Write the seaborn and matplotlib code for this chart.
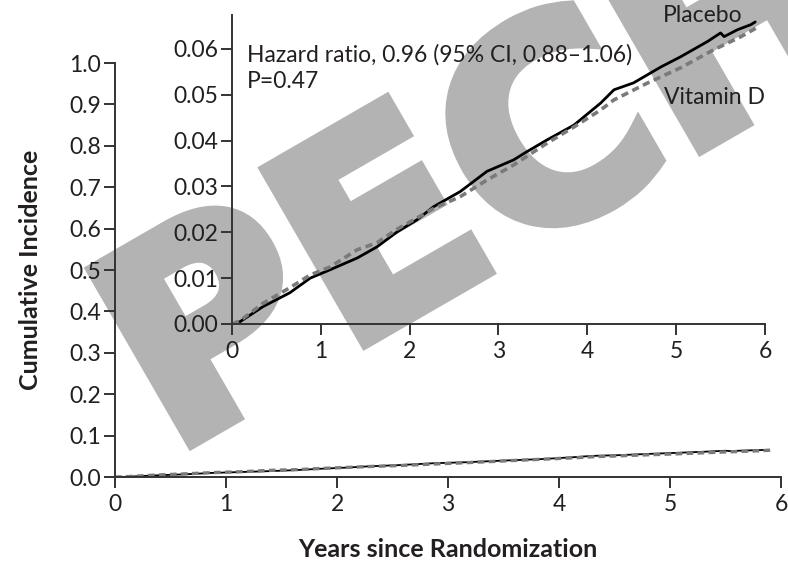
import matplotlib
matplotlib.use("Agg")
import matplotlib.pyplot as plt
import matplotlib.patheffects as pe
import seaborn as sns
import pandas as pd

# --- data (years, cumulative incidence) ---
placebo_t = [0.0, 0.09, 0.35, 0.65, 0.88, 1.10, 1.41, 1.63, 1.86, 2.08, 2.27, 2.57,
             2.87, 3.17, 3.32, 3.55, 3.85, 4.15, 4.30, 4.52, 4.83, 5.05, 5.35, 5.50,
             5.54, 5.69, 5.84, 5.89]
placebo_v = [0.0, 0.0005, 0.0038, 0.0068, 0.0100, 0.0118, 0.0144, 0.0168, 0.0201, 0.0227,
             0.0256, 0.0289, 0.0333, 0.0358, 0.0376, 0.0402, 0.0434, 0.0482, 0.0511, 0.0526,
             0.0561, 0.0583, 0.0616, 0.0635, 0.0627, 0.0642, 0.0653, 0.0659]
vitd_t = [0.0, 0.09, 0.35, 0.65, 0.88, 1.10, 1.41, 1.63, 1.86, 2.27, 2.57, 2.87, 3.17,
          3.55, 3.85, 4.15, 4.30, 4.68, 5.05, 5.42, 5.73, 5.93]
vitd_v = [0.0, 0.0007, 0.0045, 0.0079, 0.0107, 0.0124, 0.0162, 0.0177, 0.0207, 0.0252,
          0.0278, 0.0314, 0.0347, 0.0395, 0.0430, 0.0467, 0.0489, 0.0526, 0.0559, 0.0598,
          0.0627, 0.0649]

x_ticks = [0, 1, 2, 3, 4, 5, 6]
main_yticks = [0.0, 0.1, 0.2, 0.3, 0.4, 0.5, 0.6, 0.7, 0.8, 0.9, 1.0]
inset_yticks = [0.00, 0.01, 0.02, 0.03, 0.04, 0.05, 0.06]

hr_text = "Hazard ratio, 0.96 (95% CI, 0.88\u20131.06)"
p_text = "P=0.47"

df = pd.concat([
    pd.DataFrame({"t": placebo_t, "v": placebo_v, "group": "Placebo"}),
    pd.DataFrame({"t": vitd_t, "v": vitd_v, "group": "Vitamin D"}),
])

sns.set_style("ticks")
plt.rcParams["font.family"] = ["Lato", "DejaVu Sans"]

TXT = "#231f20"
SPINE = "#333333"
FS = 16.5
FS_LAB = 18

fig = plt.figure(figsize=(7.88, 5.62), dpi=100)

# watermark behind everything
WM = "#b3b3b3"
fig.text(0.216, 0.190, "PECH", fontsize=197, fontweight="bold", family="DejaVu Sans",
         color=WM, rotation=30, rotation_mode="anchor",
         ha="left", va="baseline", zorder=-1,
         path_effects=[pe.withStroke(linewidth=9, foreground=WM, joinstyle="miter")])


def style_axes(ax, xlim, ylim, yticks, yfmt):
    ax.patch.set_alpha(0)
    ax.set_xlim(*xlim)
    ax.set_ylim(*ylim)
    ax.set_xticks(x_ticks)
    ax.set_yticks(yticks)
    ax.set_yticklabels([yfmt.format(v) for v in yticks])
    for s in ["top", "right"]:
        ax.spines[s].set_visible(False)
    for s in ["left", "bottom"]:
        ax.spines[s].set_color(SPINE)
        ax.spines[s].set_linewidth(1.4)
    ax.tick_params(length=8, width=1.4, color=SPINE, labelsize=FS,
                   labelcolor=TXT, pad=2)
    ax.tick_params(axis="x", pad=4)
    ax.set_xlabel("")
    ax.set_ylabel("")


def draw_curves(ax, lw_black, lw_gray):
    sns.lineplot(data=df[df.group == "Placebo"], x="t", y="v", ax=ax,
                 color="black", lw=lw_black, legend=False)
    sns.lineplot(data=df[df.group == "Vitamin D"], x="t", y="v", ax=ax,
                 color="#7a7a7a", lw=lw_gray, legend=False,
                 linestyle=(0, (2, 1.3)))


# --- main axes ---
ax = fig.add_axes([0.146, 0.1512, 0.8452, 0.7367])
draw_curves(ax, 1.3, 2.4)
style_axes(ax, (0, 6), (0, 1.0), main_yticks, "{:.1f}")
ax.set_xlabel("Years since Randomization", fontsize=FS_LAB, fontweight="bold", color=TXT)
ax.set_ylabel("Cumulative Incidence", fontsize=FS_LAB, fontweight="bold", color=TXT)
ax.xaxis.set_label_coords(0.5, -0.148)
ax.yaxis.set_label_coords(-0.11, 0.5)

# --- inset axes ---
axin = fig.add_axes([0.2944, 0.4235, 0.6764, 0.5505])
draw_curves(axin, 2.0, 2.6)
style_axes(axin, (0, 6), (0, 0.0675), inset_yticks, "{:.2f}")

axin.text(0.17, 0.0587, hr_text, fontsize=FS, color=TXT, va="center", ha="left")
axin.text(0.17, 0.0528, p_text, fontsize=FS, color=TXT, va="center", ha="left")
axin.text(4.85, 0.0672, "Placebo", fontsize=FS, color=TXT, va="center", ha="left")
axin.text(4.86, 0.0494, "Vitamin D", fontsize=FS, color=TXT, va="center", ha="left")

fig.savefig("out.png", dpi=100)
